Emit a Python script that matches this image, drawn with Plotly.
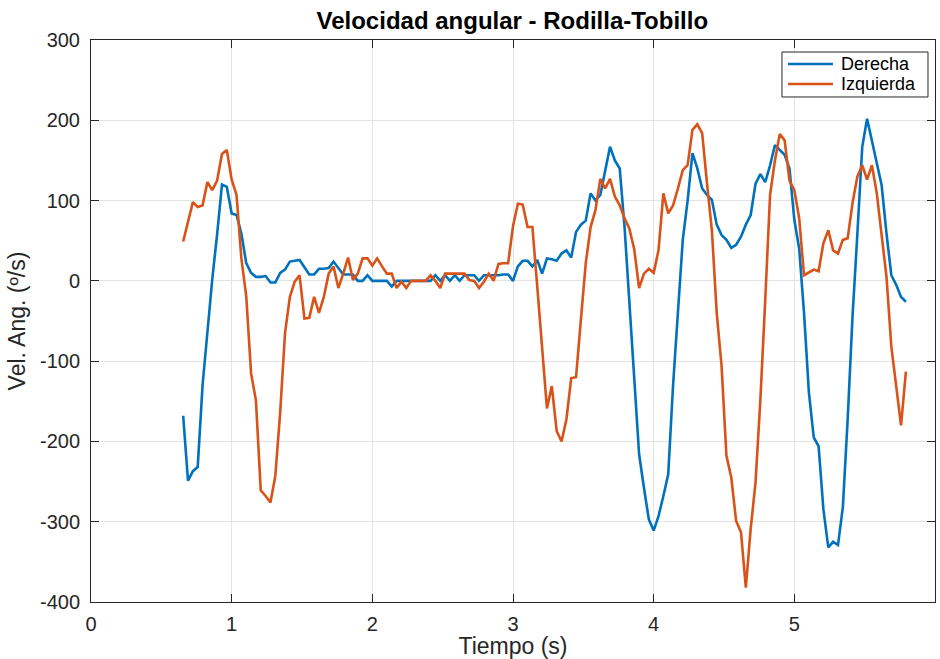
import plotly.graph_objects as go

# Sampling: 29 Hz, first sample at 19/29 s
sample_rate = 29.0
first_sample = 19

derecha = [
    -168, -249, -237, -232, -130, -60, 2, 58, 120, 117,
    84, 82, 59, 22, 10, 5, 5, 6, -2, -2,
    10, 14, 24, 25, 26, 17, 8, 8, 15, 15,
    16, 24, 16, 8, 8, 8, 0, 0, 7, 0,
    0, 0, 0, -7, 0, 0, 0, 0, 0, 0,
    0, 0, 7, 0, 7, 0, 7, 0, 7, 7,
    7, 0, 7, 7, 7, 7, 8, 8, 0, 18,
    25, 25, 18, 26, 9, 28, 27, 25, 34, 38,
    29, 61, 70, 75, 109, 100, 107, 135, 167, 150,
    140, 67, -28, -120, -216, -258, -297, -311, -293, -268,
    -241, -130, -40, 51, 100, 159, 140, 115, 107, 101,
    70, 57, 51, 41, 45, 55, 70, 82, 121, 133,
    123, 144, 169, 163, 157, 140, 76, 40, -40, -139,
    -195, -206, -285, -332, -325, -329, -282, -172, -44, 59,
    167, 202, 173, 146, 119, 59, 7, -5, -20, -26,
]

izquierda = [
    49, 74, 98, 92, 94, 123, 113, 125, 158, 163,
    126, 107, 28, -19, -115, -149, -261, -268, -276, -243,
    -164, -65, -20, -1, 7, -47, -46, -20, -40, -20,
    9, 18, -9, 9, 29, 1, 9, 28, 28, 19,
    28, 18, 9, 9, -9, -1, -9, 0, 0, 0,
    0, 7, 0, -9, 9, 9, 9, 9, 9, 1,
    0, -9, -1, 9, 0, 21, 22, 22, 68, 96,
    95, 67, 67, -7, -84, -159, -131, -187, -200, -173,
    -121, -120, -48, 22, 67, 88, 127, 115, 127, 105,
    94, 78, 65, 39, -9, 9, 15, 10, 38, 109,
    84, 94, 115, 138, 144, 188, 195, 184, 121, 63,
    -40, -106, -218, -245, -299, -313, -382, -309, -251, -148,
    -24, 107, 150, 183, 175, 125, 113, 78, 7, 10,
    14, 12, 47, 63, 38, 34, 51, 53, 97, 130,
    144, 126, 144, 109, 59, 5, -82, -131, -180, -113,
]

tiempo = [(first_sample + i) / sample_rate for i in range(len(derecha))]

series_names = ["Derecha", "Izquierda"]
series_colors = ["#0072BD", "#D95319"]

x_ticks = [0, 1, 2, 3, 4, 5, 6]
y_ticks = [-400, -300, -200, -100, 0, 100, 200, 300]

FONT = "Liberation Sans, Arial, Helvetica, sans-serif"
AX = "#262626"
GRID = "#e3e3e3"

fig = go.Figure()
for name, vals, col in zip(series_names, [derecha, izquierda], series_colors):
    fig.add_trace(go.Scatter(x=tiempo, y=vals, mode="lines", name=name,
                             line=dict(color=col, width=2.6), showlegend=False))

axis_common = dict(
    showline=True, linecolor=AX, linewidth=1, mirror="ticks",
    ticks="inside", ticklen=8, tickcolor=AX, tickwidth=1,
    showgrid=True, gridcolor=GRID, gridwidth=1, zeroline=False,
    tickfont=dict(family=FONT, size=20, color=AX),
)

# MATLAB-style legend box (top-right, inside axes)
leg_x0, leg_x1 = 0.8187, 0.9917
leg_y0, leg_y1 = 0.8986, 0.9786
row_y = [0.9573, 0.9217]
line_x0, line_x1 = 0.8258, 0.8791
text_x = 0.8863

shapes = [dict(type="rect", xref="paper", yref="paper",
               x0=leg_x0, x1=leg_x1, y0=leg_y0, y1=leg_y1,
               line=dict(color=AX, width=1), fillcolor="white", layer="above")]
annotations = []
for name, col, ry in zip(series_names, series_colors, row_y):
    shapes.append(dict(type="line", xref="paper", yref="paper",
                       x0=line_x0, x1=line_x1, y0=ry, y1=ry,
                       line=dict(color=col, width=2.6), layer="above"))
    annotations.append(dict(text=name, xref="paper", yref="paper", x=text_x, y=ry,
                            xanchor="left", yanchor="middle", showarrow=False,
                            font=dict(family=FONT, size=18, color="black")))

fig.update_layout(
    width=940, height=659,
    margin=dict(l=91, r=5, t=40, b=57),
    paper_bgcolor="white", plot_bgcolor="white",
    title=dict(text="<b>Velocidad angular - Rodilla-Tobillo</b>",
               font=dict(family=FONT, size=24, color="black"),
               x=0.545, xanchor="center", y=0.969, yanchor="middle"),
    xaxis=dict(range=[0, 6], tickvals=x_ticks, ticktext=[str(v) for v in x_ticks],
               title=dict(text="Tiempo (s)", font=dict(family=FONT, size=23, color=AX), standoff=3),
               automargin=False, ticklabelstandoff=4, **axis_common),
    yaxis=dict(range=[-400, 300], tickvals=y_ticks, ticktext=[str(v) for v in y_ticks],
               title=dict(text="Vel. Ang. (º/s)", font=dict(family=FONT, size=23, color=AX), standoff=7),
               automargin=False, ticklabelstandoff=6, **axis_common),
    shapes=shapes,
    annotations=annotations,
    showlegend=False,
)

fig.write_html("out.html")
